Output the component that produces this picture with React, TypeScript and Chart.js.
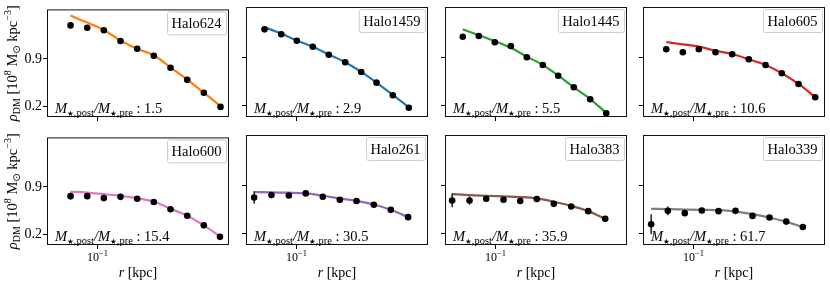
import React, { useEffect, useRef } from 'react';
import { Chart, registerables } from 'chart.js';
Chart.register(...registerables);

const haloNames = ['Halo624', 'Halo1459', 'Halo1445', 'Halo605', 'Halo600', 'Halo261', 'Halo383', 'Halo339'];
const massRatios = ['1.5', '2.9', '5.5', '10.6', '15.4', '30.5', '35.9', '61.7'];
const lineColors = ['#ff7f0e', '#1f77b4', '#2ca02c', '#d62728', '#e377c2', '#9467bd', '#8c564b', '#7f7f7f'];

const radiusKpc = [
  [0.0661, 0.0854, 0.1102, 0.1423, 0.1839, 0.2373, 0.3067, 0.3963, 0.5113, 0.6607],
  [0.0612, 0.0791, 0.1005, 0.1284, 0.1642, 0.2112, 0.27, 0.3415, 0.4385, 0.5607],
  [0.0605, 0.0774, 0.0989, 0.1265, 0.1617, 0.2067, 0.2618, 0.3327, 0.4279, 0.547],
  [0.0658, 0.0849, 0.1085, 0.1402, 0.1811, 0.2337, 0.302, 0.3879, 0.5012, 0.6476],
  [0.0661, 0.0854, 0.1102, 0.1423, 0.1839, 0.2373, 0.3067, 0.3963, 0.5113, 0.655],
  [0.0522, 0.0681, 0.0889, 0.1153, 0.1497, 0.1944, 0.2512, 0.3276, 0.4253, 0.5546],
  [0.0514, 0.0671, 0.0867, 0.1131, 0.1461, 0.1885, 0.2447, 0.3196, 0.415, 0.5387],
  [0.0522, 0.0674, 0.0875, 0.1136, 0.1468, 0.1905, 0.2474, 0.3211, 0.415, 0.5355],
];
const densitySim = [
  [1.398, 1.364, 1.326, 1.167, 1.051, 0.949, 0.769, 0.591, 0.399, 0.19],
  [1.311, 1.239, 1.146, 1.059, 0.943, 0.833, 0.693, 0.538, 0.355, 0.175],
  [1.204, 1.214, 1.123, 1.069, 0.906, 0.794, 0.639, 0.471, 0.297, 0.094],
  [1.022, 0.978, 1.022, 0.978, 0.949, 0.877, 0.794, 0.674, 0.519, 0.326],
  [0.764, 0.764, 0.735, 0.754, 0.725, 0.677, 0.569, 0.473, 0.331, 0.161],
  [0.729, 0.764, 0.758, 0.788, 0.739, 0.696, 0.677, 0.623, 0.55, 0.444],
  [0.686, 0.686, 0.71, 0.696, 0.677, 0.706, 0.637, 0.598, 0.531, 0.419],
  [0.341, 0.535, 0.502, 0.54, 0.531, 0.535, 0.462, 0.438, 0.379, 0.302],
];
const densityFit = [
  [1.543, 1.44, 1.33, 1.175, 1.05, 0.955, 0.775, 0.595, 0.4, 0.2],
  [1.34, 1.25, 1.15, 1.06, 0.945, 0.835, 0.695, 0.54, 0.36, 0.18],
  [1.311, 1.225, 1.14, 1.045, 0.915, 0.795, 0.64, 0.47, 0.3, 0.1],
  [1.127, 1.094, 1.06, 1.0, 0.953, 0.877, 0.794, 0.674, 0.519, 0.33],
  [0.831, 0.817, 0.793, 0.769, 0.735, 0.681, 0.579, 0.473, 0.331, 0.17],
  [0.808, 0.802, 0.798, 0.788, 0.754, 0.715, 0.681, 0.627, 0.55, 0.444],
  [0.779, 0.764, 0.754, 0.744, 0.735, 0.715, 0.667, 0.608, 0.531, 0.419],
  [0.565, 0.56, 0.555, 0.55, 0.545, 0.525, 0.487, 0.438, 0.375, 0.302],
];
const densityErr = [
  [0.01, 0.01, 0.01, 0.01, 0.01, 0.01, 0.01, 0.01, 0.01, 0.01],
  [0.01, 0.01, 0.01, 0.01, 0.01, 0.01, 0.01, 0.01, 0.01, 0.01],
  [0.01, 0.01, 0.01, 0.01, 0.01, 0.01, 0.01, 0.01, 0.01, 0.01],
  [0.01, 0.01, 0.01, 0.01, 0.01, 0.01, 0.01, 0.01, 0.01, 0.01],
  [0.05, 0.02, 0.02, 0.01, 0.01, 0.01, 0.01, 0.01, 0.01, 0.01],
  [0.09, 0.045, 0.02, 0.015, 0.01, 0.01, 0.01, 0.01, 0.01, 0.01],
  [0.1, 0.06, 0.02, 0.015, 0.01, 0.01, 0.01, 0.01, 0.01, 0.01],
  [0.146, 0.063, 0.03, 0.015, 0.01, 0.01, 0.01, 0.01, 0.01, 0.01],
];
const yTicks = [0.2, 0.9];
const xTicks = [0.1];
const xLimits = [0.04606, 0.7525];
const yLimits = [0.04, 1.635];

const SERIF = '"Liberation Serif", "DejaVu Serif", serif';
const SYM = '"DejaVu Sans", sans-serif';
const FRAME_LEFTS = [47, 246, 445, 643];
const FRAME_TOPS = [7, 135];
const FW = 182;
const FH = 110;
const PAD_L = 47;
const PAD_T = 7;
const PAD_R = 6;
const PAD_B = 45;
const CW = PAD_L + FW + PAD_R;
const CH = PAD_T + FH + PAD_B;

type Seg = { t: string; size: number; italic?: boolean; dy?: number; family?: string };

function setFont(ctx: CanvasRenderingContext2D, s: Seg) {
  ctx.font = `${s.italic ? 'italic ' : ''}${s.size}px ${s.family || SERIF}`;
}
function segsWidth(ctx: CanvasRenderingContext2D, segs: Seg[]) {
  let w = 0;
  for (const s of segs) {
    setFont(ctx, s);
    w += ctx.measureText(s.t).width;
  }
  return w;
}
function drawSegs(ctx: CanvasRenderingContext2D, segs: Seg[], x: number, y: number) {
  ctx.textBaseline = 'alphabetic';
  ctx.textAlign = 'left';
  for (const s of segs) {
    setFont(ctx, s);
    ctx.fillText(s.t, x, y + (s.dy || 0));
    x += ctx.measureText(s.t).width;
  }
}

function Panel({ idx }: { idx: number }) {
  const ref = useRef<HTMLCanvasElement>(null);
  const col = idx % 4;
  const row = Math.floor(idx / 4);
  const left = FRAME_LEFTS[col] - PAD_L;
  const top = FRAME_TOPS[row] - PAD_T;

  useEffect(() => {
    if (!ref.current) return;
    const r = radiusKpc[idx];
    const decor = {
      id: 'decor' + idx,
      afterDatasetsDraw(chart: any) {
        const ctx: CanvasRenderingContext2D = chart.ctx;
        const ys = chart.scales.y;
        const meta = chart.getDatasetMeta(1);
        ctx.save();
        ctx.strokeStyle = '#000';
        ctx.lineWidth = 1.3;
        densitySim[idx].forEach((v, i) => {
          const e = densityErr[idx][i];
          const pt = meta.data[i];
          if (!pt) return;
          ctx.beginPath();
          ctx.moveTo(pt.x, ys.getPixelForValue(v + e));
          ctx.lineTo(pt.x, ys.getPixelForValue(v - e));
          ctx.stroke();
        });
        ctx.restore();
      },
      afterDraw(chart: any) {
        const ctx: CanvasRenderingContext2D = chart.ctx;
        const a = chart.chartArea;
        ctx.save();
        // frame
        ctx.strokeStyle = '#111';
        ctx.lineWidth = 1;
        ctx.strokeRect(a.left + 0.5, a.top + 0.5, a.right - a.left - 1, a.bottom - a.top - 1);

        // halo label box
        ctx.font = `14.5px ${SERIF}`;
        const tw = ctx.measureText(haloNames[idx]).width;
        const bw = tw + 9;
        const bh = 23;
        const bx = a.right - 3 - bw;
        const by = a.top + 2;
        ctx.fillStyle = '#fff';
        ctx.strokeStyle = '#cccccc';
        ctx.lineWidth = 1;
        ctx.beginPath();
        (ctx as any).roundRect(bx + 0.5, by + 0.5, bw, bh, 2);
        ctx.fill();
        ctx.stroke();
        ctx.fillStyle = '#000';
        ctx.textAlign = 'left';
        ctx.textBaseline = 'alphabetic';
        ctx.fillText(haloNames[idx], bx + 4.5, by + 17);

        // mass ratio annotation
        ctx.fillStyle = '#000';
        const segs: Seg[] = [
          { t: 'M', size: 14.5, italic: true },
          { t: '★', size: 7.5, dy: 2.5, family: SYM },
          { t: ',post', size: 10.5, dy: 3 },
          { t: '/', size: 14.5, italic: true },
          { t: 'M', size: 14.5, italic: true },
          { t: '★', size: 7.5, dy: 2.5, family: SYM },
          { t: ',pre', size: 10.5, dy: 3 },
          { t: ' : ' + massRatios[idx], size: 14.5 },
        ];
        drawSegs(ctx, segs, a.left + 8, a.bottom - 4);

        // x tick label and title for bottom row
        if (row === 1) {
          const xs = chart.scales.x;
          const px = xs.getPixelForValue(xTicks[0]);
          const tl: Seg[] = [
            { t: '10', size: 12 },
            { t: '−1', size: 8.5, dy: -5 },
          ];
          const w = segsWidth(ctx, tl);
          drawSegs(ctx, tl, px - w / 2, a.bottom + 16);
          const tt: Seg[] = [
            { t: 'r', size: 14, italic: true },
            { t: ' [kpc]', size: 14 },
          ];
          const w2 = segsWidth(ctx, tt);
          drawSegs(ctx, tt, (a.left + a.right) / 2 - w2 / 2, a.bottom + 32);
        }

        // y title for left column
        if (col === 0) {
          const yt: Seg[] = [
            { t: 'ρ', size: 14.5, italic: true },
            { t: 'DM', size: 10, dy: 3 },
            { t: ' [10', size: 14.5 },
            { t: '8', size: 10, dy: -6 },
            { t: ' M', size: 14.5 },
            { t: '⊙', size: 10, dy: 3, family: SYM },
            { t: ' kpc', size: 14.5 },
            { t: '−3', size: 10, dy: -6 },
            { t: ']', size: 14.5 },
          ];
          const w = segsWidth(ctx, yt);
          ctx.translate(17, (a.top + a.bottom) / 2);
          ctx.rotate(-Math.PI / 2);
          drawSegs(ctx, yt, -w / 2, 0);
        }
        ctx.restore();
      },
    };

    const chart = new Chart(ref.current, {
      type: 'scatter',
      data: {
        datasets: [
          {
            data: r.map((x, i) => ({ x, y: densityFit[idx][i] })),
            showLine: true,
            borderColor: lineColors[idx],
            borderWidth: 2.2,
            pointRadius: 0,
            cubicInterpolationMode: 'monotone',
            order: 2,
          } as any,
          {
            data: r.map((x, i) => ({ x, y: densitySim[idx][i] })),
            showLine: false,
            backgroundColor: '#000',
            borderColor: '#000',
            pointRadius: 3.3,
            pointBorderWidth: 0,
            order: 1,
          } as any,
        ],
      },
      options: {
        responsive: false,
        animation: false,
        devicePixelRatio: 1,
        layout: { padding: { left: 0, top: PAD_T, right: PAD_R, bottom: 0 } },
        plugins: { legend: { display: false }, tooltip: { enabled: false } },
        scales: {
          x: {
            type: 'logarithmic',
            min: xLimits[0],
            max: xLimits[1],
            afterBuildTicks: (s: any) => {
              s.ticks = xTicks.map((v) => ({ value: v }));
            },
            afterFit: (s: any) => {
              s.height = PAD_B;
            },
            ticks: { display: false },
            grid: { drawOnChartArea: false, drawTicks: true, tickLength: 4, color: '#000', lineWidth: 1 },
            border: { display: false },
          },
          y: {
            type: 'linear',
            min: yLimits[0],
            max: yLimits[1],
            afterBuildTicks: (s: any) => {
              s.ticks = yTicks.map((v) => ({ value: v }));
            },
            afterFit: (s: any) => {
              s.width = PAD_L;
            },
            ticks: {
              display: col === 0,
              color: '#000',
              padding: 1,
              font: { family: SERIF, size: 14 },
              callback: (v: any) => Number(v).toFixed(1),
            },
            grid: { drawOnChartArea: false, drawTicks: true, tickLength: 4, color: '#000', lineWidth: 1 },
            border: { display: false },
          },
        },
      } as any,
      plugins: [decor],
    });
    return () => chart.destroy();
  }, [idx]);

  return (
    <canvas
      ref={ref}
      width={CW}
      height={CH}
      style={{ position: 'absolute', left, top, width: CW, height: CH }}
    />
  );
}

export default function App() {
  return (
    <div
      style={{
        position: 'absolute',
        left: 0,
        top: 0,
        width: 830,
        height: 287,
        background: '#fff',
        overflow: 'hidden',
      }}
    >
      {haloNames.map((_, i) => (
        <Panel key={i} idx={i} />
      ))}
    </div>
  );
}
